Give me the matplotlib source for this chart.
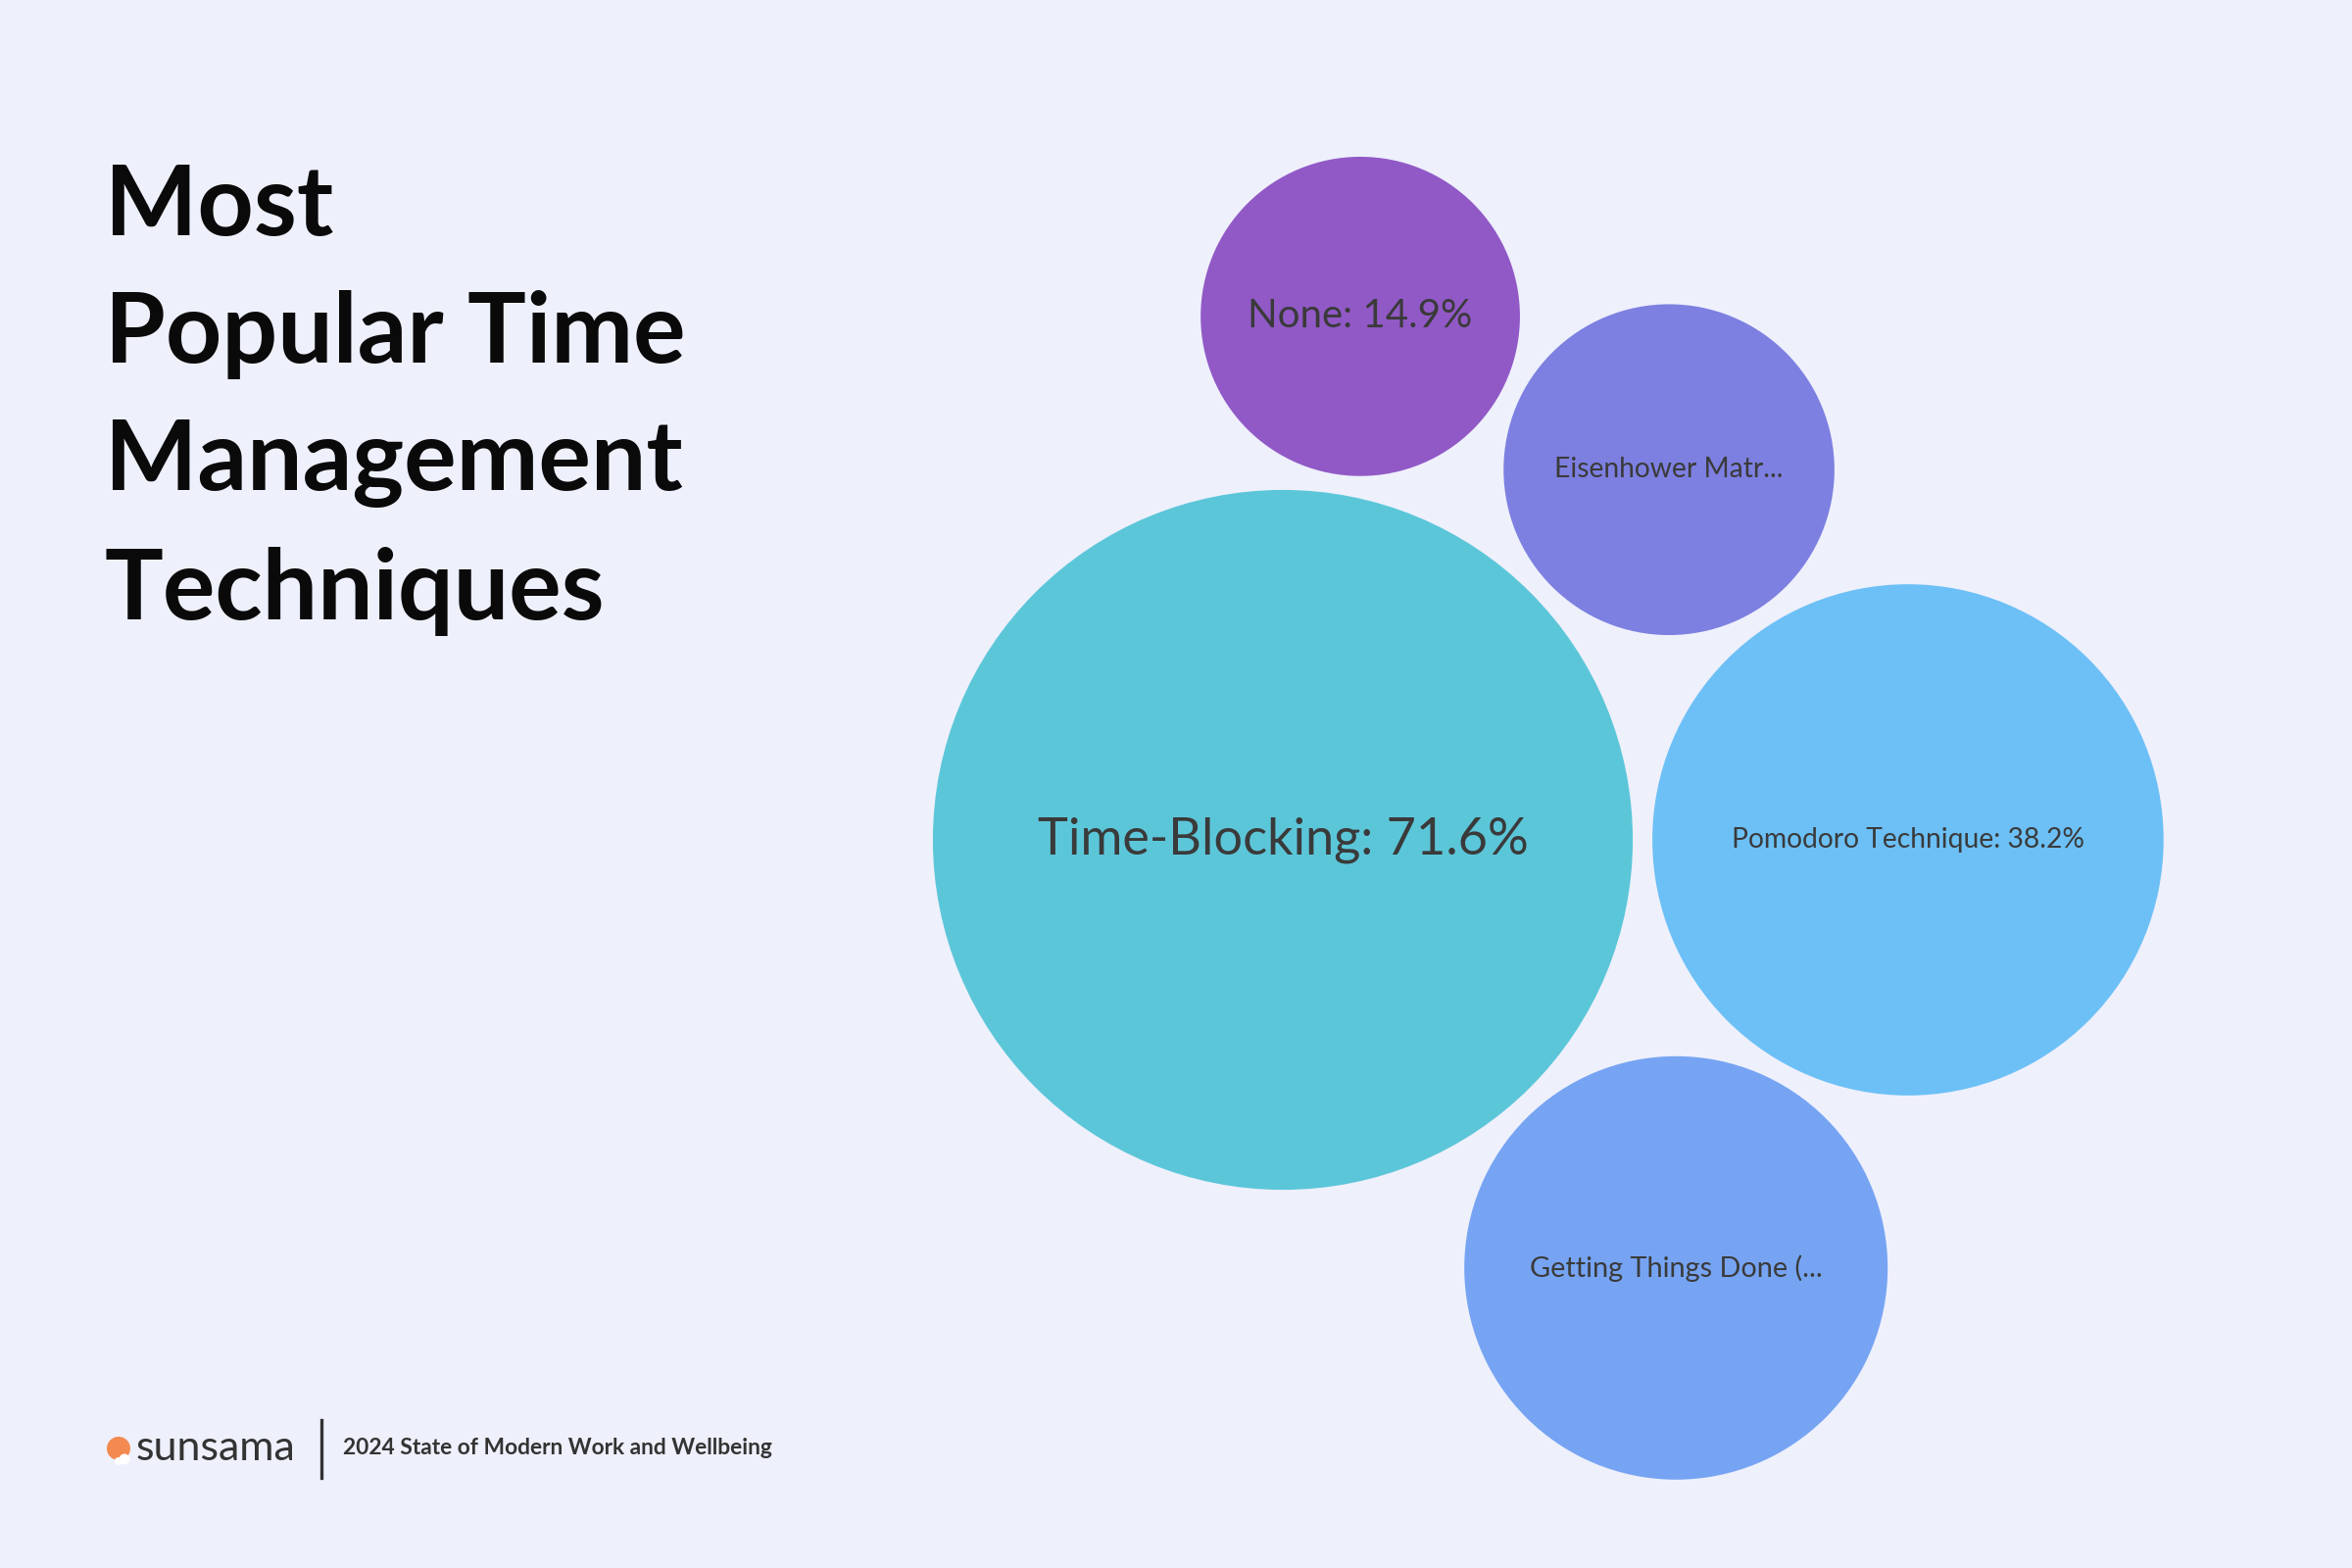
import numpy as np
import matplotlib.pyplot as plt
from matplotlib.patches import Circle

# data
labels = ["Time-Blocking: 71.6%", "Pomodoro Technique: 38.2%", "Eisenhower Matr...",
          "Getting Things Done (...", "None: 14.9%"]
values = [71.6, 38.2, 16.0, 26.2, 14.9]
colors = ["#5cc6d9", "#6cc0f6", "#7d80e0", "#76a4f3", "#9159c6"]
label_sizes = [18.8, 10.2, 10.2, 10.4, 14.5]

bg = "#eef0fc"
scale = 42.2   # px per sqrt(%)
pad = 20

r = scale * np.sqrt(np.array(values))

# simple pack: first two side by side, the rest tangent to a pair
pos = [None] * len(values)
pos[0] = np.array([1309.0, 857.0])
pos[1] = pos[0] + np.array([r[0] + r[1] + pad, 0.0])


def tangent(i, j, k, side):
    a, b = pos[i], pos[j]
    da, db = r[i] + r[k] + pad, r[j] + r[k] + pad
    d = np.linalg.norm(b - a)
    u = (b - a) / d
    perp = np.array([-u[1], u[0]])
    x = (da**2 - db**2 + d**2) / (2 * d)
    h = np.sqrt(max(da**2 - x**2, 0))
    return a + x * u + side * h * perp


pos[2] = tangent(0, 1, 2, -1)
pos[3] = tangent(0, 1, 3, 1)
pos[4] = tangent(0, 2, 4, -1)

fig = plt.figure(figsize=(12, 8), dpi=200, facecolor=bg)
ax = fig.add_axes([0, 0, 1, 1])
ax.set_xlim(0, 2400)
ax.set_ylim(1600, 0)
ax.set_aspect("equal")
ax.axis("off")
ax.set_facecolor(bg)

for p, rad, c, lab, fs in zip(pos, r, colors, labels, label_sizes):
    ax.add_patch(Circle(p, rad, color=c, lw=0))
    ax.text(p[0], p[1], lab, ha="center", va="center", fontsize=fs,
            color="#3a3a3a", family="Lato")

ax.text(107, 166, "Most\nPopular Time\nManagement\nTechniques", ha="left", va="top",
        fontsize=36, fontweight="bold", family="Lato", color="#0a0a0a", linespacing=1.53)

# footer
ax.add_patch(Circle((121, 1478), 12, color="#f28a52", lw=0))
ax.add_patch(Circle((127, 1489), 5.5, color="white", lw=0))
ax.add_patch(Circle((121, 1491), 4, color="white", lw=0))
ax.text(139, 1478, "sunsama", ha="left", va="center", fontsize=15.5, family="Lato",
        color="#333333")
ax.plot([328, 328], [1449, 1508], color="#333333", lw=1.2)
ax.text(350, 1478, "2024 State of Modern Work and Wellbeing", ha="left", va="center",
        fontsize=8.2, family="Lato", fontweight="bold", color="#333333")

fig.savefig("out.png", dpi=200, facecolor=bg)
